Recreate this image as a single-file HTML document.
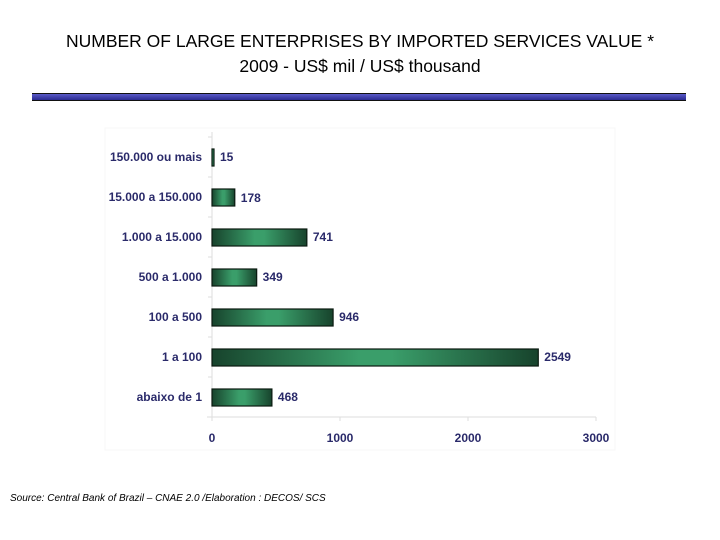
<!DOCTYPE html>
<html><head><meta charset="utf-8"><style>
body{margin:0;width:720px;height:540px;background:#fff;font-family:"Liberation Sans",sans-serif;position:relative;overflow:hidden}
.t{position:absolute;left:0;width:720px;text-align:center;font-size:17.5px;color:#000}
#rule{position:absolute;left:32px;top:93px;width:654px;height:6px;background:linear-gradient(#5a5ac8,#2a2a90);border-top:1px solid #111;border-bottom:1px solid #111}
#src{position:absolute;left:10px;top:493px;font-size:10px;font-style:italic}
</style></head><body>
<div class="t" style="top:31px">NUMBER OF LARGE ENTERPRISES BY IMPORTED SERVICES VALUE *</div>
<div class="t" style="top:56px">2009 - US$ mil / US$ thousand</div>
<div id="rule"></div>
<svg id="c" width="720" height="540" style="position:absolute;left:0;top:0">
<defs><linearGradient id="g" x1="0" x2="1" y1="0" y2="0">
<stop offset="0" stop-color="#17432c"/><stop offset="0.45" stop-color="#3a9e6a"/><stop offset="0.55" stop-color="#3a9e6a"/><stop offset="1" stop-color="#17432c"/></linearGradient></defs>
</svg>
<div id="src">Source: Central Bank of Brazil – CNAE 2.0 /Elaboration : DECOS/ SCS</div>
<script>
const categories=["150.000 ou mais","15.000 a 150.000","1.000 a 15.000","500 a 1.000","100 a 500","1 a 100","abaixo de 1"];
const values=[15,178,741,349,946,2549,468];
const ticks=[0,1000,2000,3000];
const svg=document.getElementById('c'),NS="http://www.w3.org/2000/svg";
const x0=212,x1=596,xmax=3000,yTop=137,yBot=417;
const xs=v=>x0+(v/xmax)*(x1-x0);
const band=(yBot-yTop)/categories.length;
const yc=i=>yTop+band*(i+0.5);
function mk(t,a,txt){const e=document.createElementNS(NS,t);for(const k in a)e.setAttribute(k,a[k]);if(txt!=null)e.textContent=txt;svg.appendChild(e);return e;}
const pa=mk('rect',{x:105,y:128,width:510,height:322,fill:'#fff',stroke:'#f7f7f7'});


const ax=mk('line',{x1:x0,y1:yTop-5,x2:x0,y2:yBot,stroke:'#ddd'});


const bx=mk('line',{x1:x0-5,y1:yBot,x2:x1,y2:yBot,stroke:'#ddd'});


ticks.forEach(t=>{
 const l=mk('text',{x:xs(t),y:yBot+25,'text-anchor':'middle','font-size':12,'font-weight':'bold',fill:'#2a2a6a'},t);
 
 
 mk('line',{x1:xs(t),y1:yBot,x2:xs(t),y2:yBot+4,stroke:'#ddd'});
});
categories.forEach((c,i)=>{
 const y=yc(i);
 mk('line',{x1:x0-4,y1:yTop+band*i,x2:x0,y2:yTop+band*i,stroke:'#ddd'});
 const l=mk('text',{x:202,y:y+4,'text-anchor':'end','font-size':12,'font-weight':'bold',fill:'#2a2a6a'},c);
 
 
 const w=Math.max(xs(values[i])-x0,2);
 const b=mk('rect',{x:x0,y:y-8,width:w,height:17,fill:'url(#g)',stroke:'#0a1a10','stroke-width':1.2});
 
 
 const v=mk('text',{x:x0+w+6,y:y+4+(i==1?1:0),'font-size':12,'font-weight':'bold',fill:'#2a2a6a'},values[i]);
 
 
});
</script>
</body></html>
